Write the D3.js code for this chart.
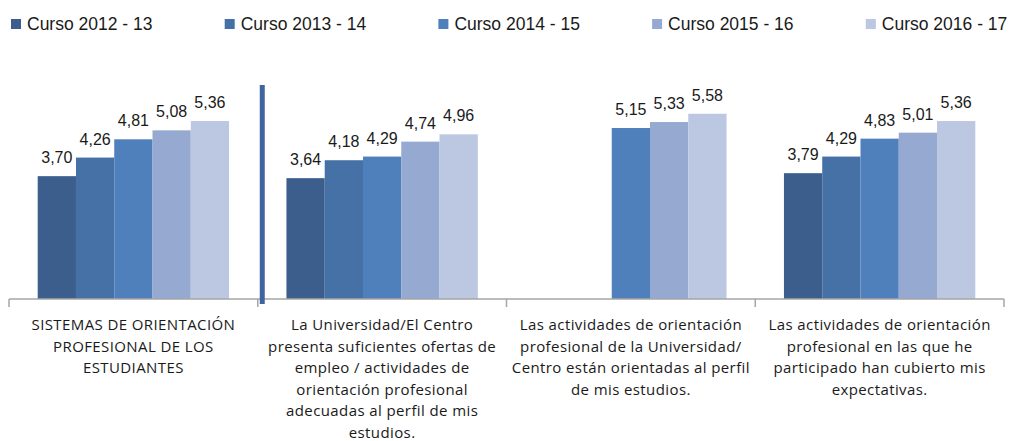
<!DOCTYPE html>
<html>
<head>
<meta charset="utf-8">
<script src="https://cdn.jsdelivr.net/npm/d3@7"></script>
<style>
  html, body { margin: 0; padding: 0; background: #fff; }
  svg { display: block; }
</style>
</head>
<body>
<svg id="chart" width="1009" height="441"></svg>
<script>
const seriesNames = ["Curso 2012 - 13", "Curso 2013 - 14", "Curso 2014 - 15", "Curso 2015 - 16", "Curso 2016 - 17"];
const categories = [
  ["SISTEMAS DE ORIENTACIÓN", "PROFESIONAL DE LOS", "ESTUDIANTES"],
  ["La Universidad/El Centro", "presenta suficientes ofertas de", "empleo / actividades de", "orientación profesional", "adecuadas al perfil de mis", "estudios."],
  ["Las actividades de orientación", "profesional de la Universidad/", "Centro están orientadas al perfil", "de mis estudios."],
  ["Las actividades de orientación", "profesional en las que he", "participado han cubierto mis", "expectativas."]
];
const curso2012 = [3.70, 3.64, null, 3.79];
const curso2013 = [4.26, 4.18, null, 4.29];
const curso2014 = [4.81, 4.29, 5.15, 4.83];
const curso2015 = [5.08, 4.74, 5.33, 5.01];
const curso2016 = [5.36, 4.96, 5.58, 5.36];
const seriesValues = [curso2012, curso2013, curso2014, curso2015, curso2016];
const colors = ["#3B5E8C", "#4571A6", "#4F80BC", "#95A9D1", "#BCC8E1"];

const svg = d3.select("#chart");
const plotLeft = 9, plotRight = 1004, baseline = 299, plotTop = 66.6;

const x0 = d3.scaleBand().domain(d3.range(categories.length)).range([plotLeft, plotRight]).paddingInner(0).paddingOuter(0);
const groupW = x0.bandwidth() / 1.3;
const x1 = d3.scaleBand().domain(d3.range(seriesNames.length)).range([0, groupW]).padding(0);
const y = d3.scaleLinear().domain([0, 7]).range([baseline, plotTop]);

// bars
seriesNames.forEach((name, s) => {
  const g = svg.append("g");
  const data = seriesValues[s].map((v, i) => ({ v, i })).filter(d => d.v != null);
  g.selectAll("rect").data(data).enter().append("rect")
    .attr("x", d => x0(d.i) + (x0.bandwidth() - groupW) / 2 + x1(s))
    .attr("y", d => y(d.v))
    .attr("width", x1.bandwidth())
    .attr("height", d => baseline - y(d.v))
    .attr("fill", colors[s]);
  g.selectAll("text").data(data).enter().append("text")
    .attr("x", d => x0(d.i) + (x0.bandwidth() - groupW) / 2 + x1(s) + x1.bandwidth() / 2)
    .attr("y", d => y(d.v) - 13)
    .attr("text-anchor", "middle")
    .attr("font-family", "Liberation Sans, Arial, sans-serif")
    .attr("font-size", 16)
    .attr("fill", "#1a1a1a")
    .text(d => d3.format(".2f")(d.v).replace(".", ","));
});

// axis
const axis = d3.axisBottom(x0).tickSize(0).tickFormat("");
const ax = svg.append("g").attr("transform", `translate(0,${baseline})`).call(axis);
ax.select(".domain").attr("stroke", "#A6A6A6").attr("stroke-width", 1.5).attr("d", `M${plotLeft},0H${plotRight}`);
const bounds = d3.range(categories.length + 1).map(i => plotLeft + i * x0.bandwidth());
ax.selectAll(".bound").data(bounds).enter().append("line")
  .attr("class", "bound")
  .attr("x1", d => d).attr("x2", d => d)
  .attr("y1", 0).attr("y2", 8)
  .attr("stroke", "#A6A6A6").attr("stroke-width", 1.5);

// thick vertical marker line
svg.append("rect")
  .attr("x", x0(1) + 2).attr("y", 85)
  .attr("width", 5).attr("height", 219)
  .attr("fill", "#3E659D");

// category labels
categories.forEach((lines, i) => {
  const t = svg.append("text")
    .attr("x", x0(i) + x0.bandwidth() / 2)
    .attr("y", 330)
    .attr("text-anchor", "middle")
    .attr("font-family", "Open Sans, Liberation Sans, Arial, sans-serif")
    .attr("font-size", 15)
    .attr("letter-spacing", 0.4)
    .attr("fill", "#1a1a1a");
  lines.forEach((l, k) => {
    t.append("tspan").attr("x", x0(i) + x0.bandwidth() / 2).attr("dy", k === 0 ? 0 : 21.6).text(l);
  });
});

// legend
const legendStep = 213.7;
const lg = svg.append("g");
seriesNames.forEach((name, s) => {
  const gx = 11 + s * legendStep;
  lg.append("rect").attr("x", gx).attr("y", 19).attr("width", 10).attr("height", 10).attr("fill", colors[s]);
  lg.append("text").attr("x", gx + 16).attr("y", 30)
    .attr("font-family", "Liberation Sans, Arial, sans-serif")
    .attr("font-size", 17.5)
    .attr("fill", "#1a1a1a")
    .text(name);
});
</script>
</body>
</html>
